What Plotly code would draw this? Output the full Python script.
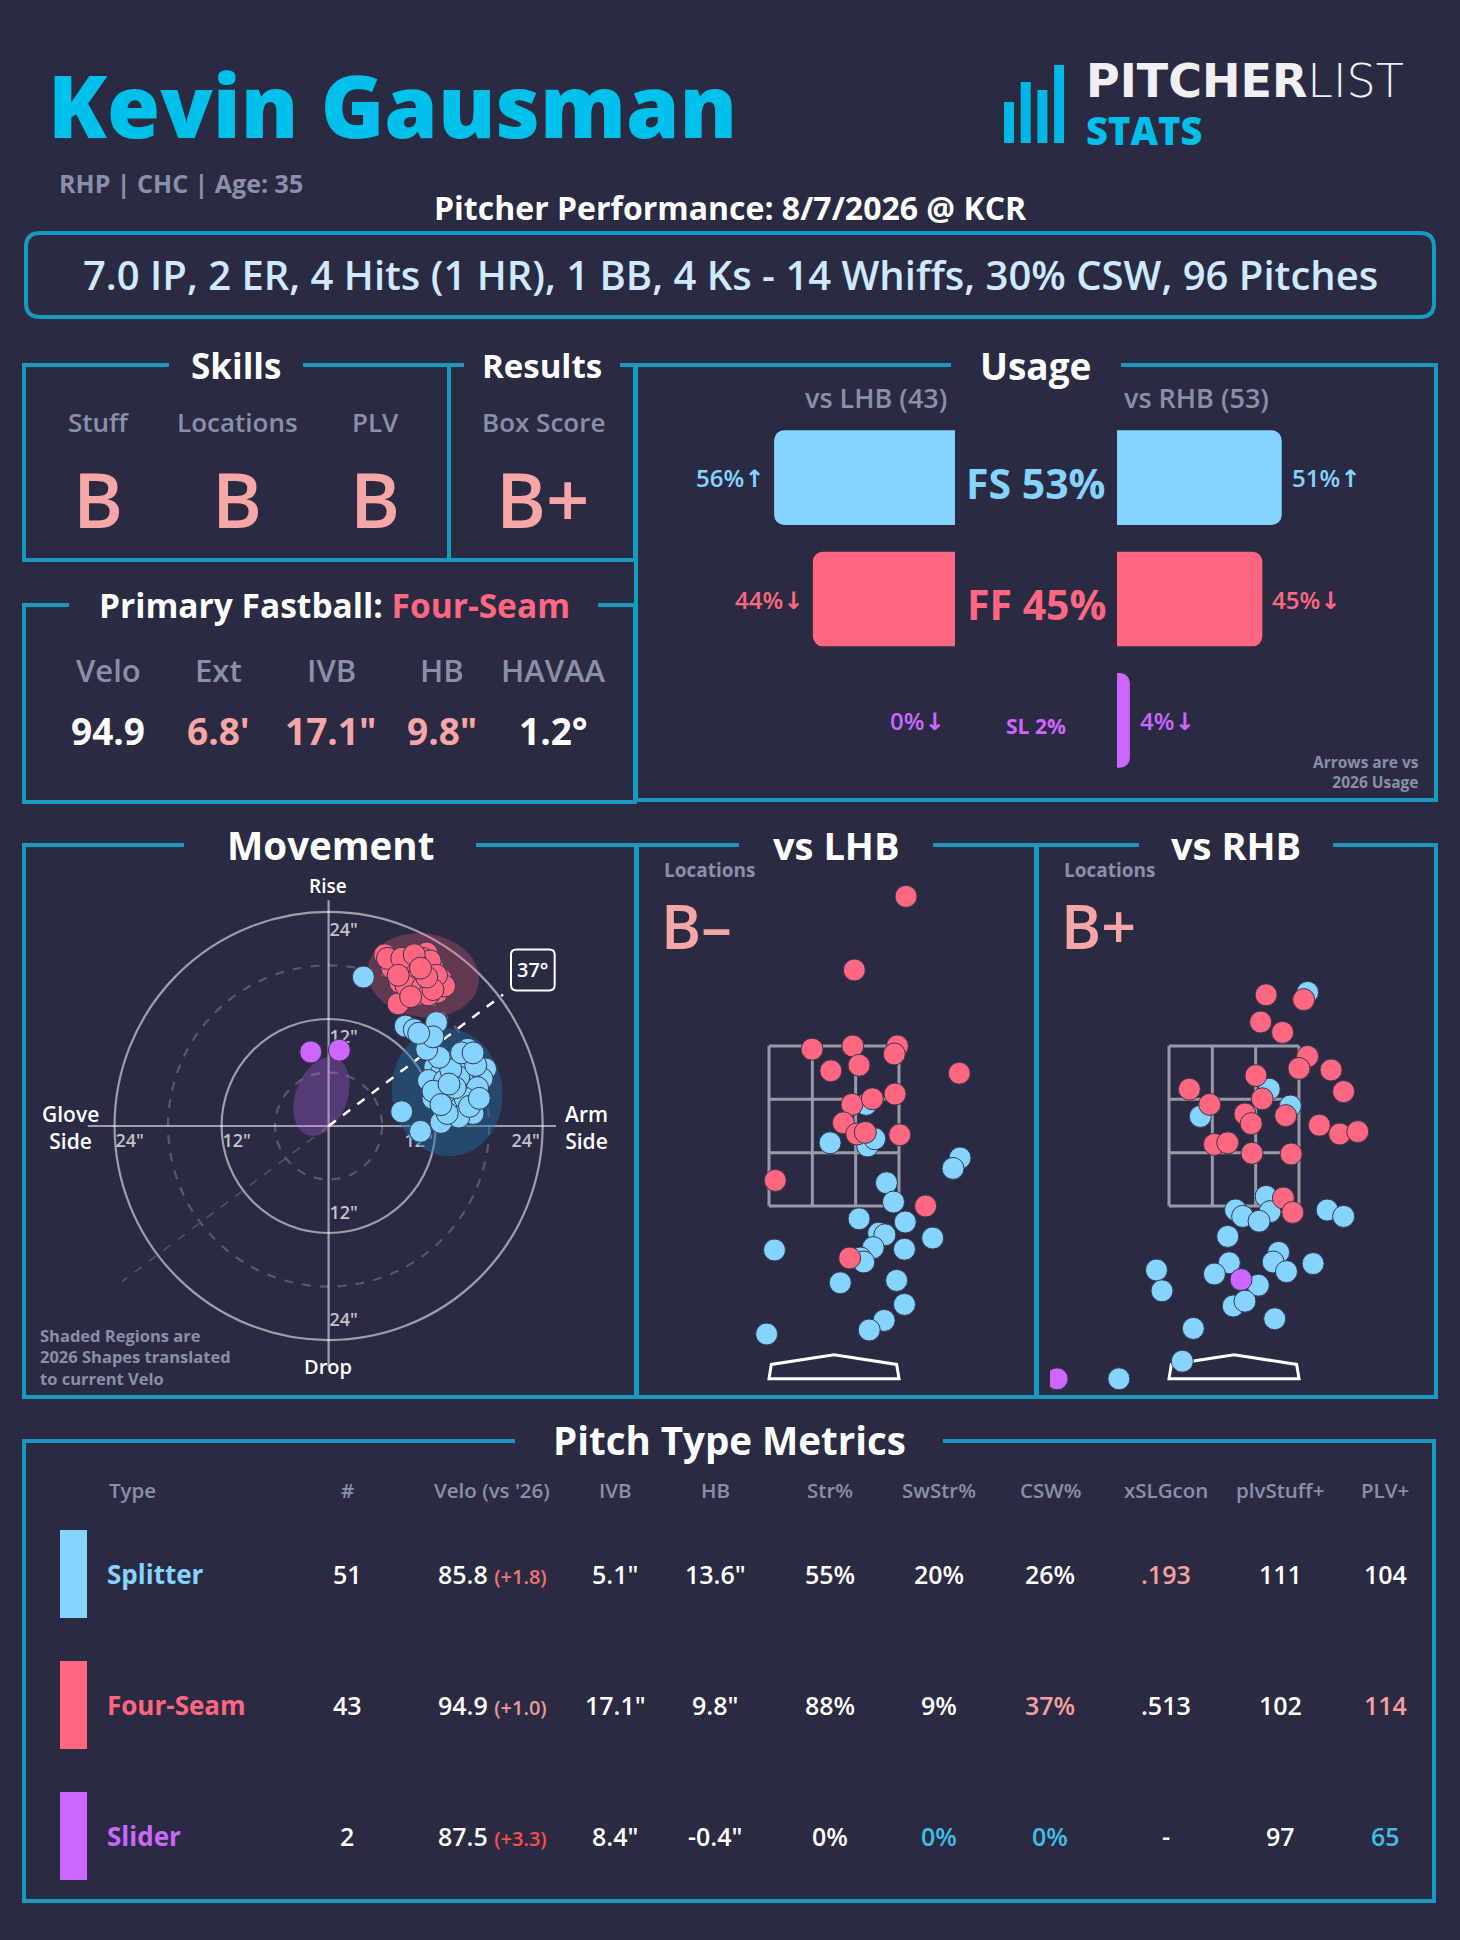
import numpy as np
import plotly.graph_objects as go

# ---------------- data ----------------
pitcher_name = "Kevin Gausman"
pitcher_info = "RHP | CHC | Age: 35"
game_title = "Pitcher Performance: 8/7/2026 @ KCR"
game_line = "7.0 IP, 2 ER, 4 Hits (1 HR), 1 BB, 4 Ks - 14 Whiffs, 30% CSW, 96 Pitches"

skill_labels = ["Stuff", "Locations", "PLV"]
skill_grades = ["B", "B", "B"]
result_labels = ["Box Score"]
result_grades = ["B+"]

fb_pitch = "Four-Seam"
fb_labels = ["Velo", "Ext", "IVB", "HB", "HAVAA"]
fb_values = ["94.9", "6.8'", "17.1\"", "9.8\"", "1.2°"]

usage_pitches = ["FS", "FF", "SL"]
usage_total = [53, 45, 2]
usage_lhb = [56, 44, 0]
usage_rhb = [51, 45, 4]
trend_lhb = ["↑", "↓", "↓"]
trend_rhb = ["↑", "↓", "↓"]
batters_lhb = 43
batters_rhb = 53

# movement (inches): horizontal break (arm side +), induced vertical break
ff_hb = [6.3, 7.3, 8.2, 9.2, 10.1, 11.0, 11.7, 12.6, 12.2, 11.0, 9.8, 8.9, 9.6, 10.8, 10.3, 7.8, 9.8, 7.1,
         8.5, 11.2, 11.9, 10.5, 9.4, 8.9, 11.4, 6.6, 8.0, 10.1, 10.8, 9.4, 13.0, 8.7, 10.5, 11.2, 12.1, 9.8,
         8.2, 11.7, 9.2, 11.0, 7.8, 9.6, 10.3]
ff_ivb = [19.2, 18.3, 17.9, 18.8, 19.2, 19.4, 17.7, 16.5, 15.0, 15.3, 15.9, 16.5, 17.5, 17.9, 16.9, 13.7, 14.7,
          17.7, 17.1, 17.1, 16.1, 18.8, 15.3, 18.1, 18.5, 18.8, 16.1, 16.5, 16.3, 17.1, 15.7, 15.7, 15.5, 14.7,
          16.9, 18.3, 18.8, 15.3, 14.5, 16.7, 16.9, 19.2, 17.7]
fs_hb = [3.9, 8.6, 9.6, 12.1, 10.8, 11.4, 15.6, 17.6, 17.2, 13.5, 14.4, 11.9, 12.6, 15.1, 15.8, 14.0, 12.1,
         13.3, 14.4, 16.0, 11.7, 14.0, 16.2, 8.2, 12.6, 10.3, 12.8, 15.3, 16.7, 13.5, 14.9, 11.2, 13.0, 14.6,
         16.5, 13.7, 12.4, 11.0, 11.7, 15.3, 14.6, 13.3, 15.8, 16.9, 14.2, 12.6, 14.9, 16.2, 11.7, 10.1, 13.5]
fs_ivb = [16.7, 11.2, 10.8, 11.6, 9.7, 8.6, 8.6, 6.4, 5.3, 7.1, 7.5, 6.6, 5.9, 6.1, 5.1, 5.1, 4.7, 4.1, 3.7,
          3.5, 3.1, 1.8, 1.4, 1.6, 0.4, -0.6, 3.3, 4.7, 4.3, 2.9, 2.2, 5.1, 5.1, 5.5, 6.8, 6.3, 7.7, 8.6, 3.9,
          3.1, 1.0, 1.4, 2.2, 3.1, 4.3, 2.4, 8.2, 8.2, 10.0, 10.4, 4.7]
sl_hb = [-2.0, 1.2]
sl_ivb = [8.3, 8.5]
arm_angle = 37
ring_radii = [6, 12, 18, 24]

# 2026 shapes (center hb, center ivb, semi-axis x, semi-axis y, tilt deg)
shape_pitch = ["FS", "FF", "SL"]
shape_cx = [13.3, 10.6, -0.8]
shape_cy = [3.8, 16.9, 3.3]
shape_ax = [6.2, 6.3, 2.9]
shape_ay = [7.2, 4.7, 4.6]
shape_tilt = [8, -8, -21]

# locations (feet): plate_x, plate_z
lhb_ff_x = [0.92, 0.26, -0.28, 0.24, 0.81, 0.77, -0.04, 0.32, 1.60, 0.23, 0.49, 0.78, 0.12, 0.29, 0.40, 0.84, -0.75, 1.17, 0.20]
lhb_ff_z = [5.37, 4.45, 3.46, 3.50, 3.50, 3.40, 3.19, 3.26, 3.16, 2.77, 2.84, 2.90, 2.54, 2.40, 2.42, 2.39, 1.82, 1.50, 0.85]
lhb_fs_x = [0.41, -0.05, 0.43, 0.52, 1.61, 1.52, 0.67, 0.76, 0.32, 0.91, 0.57, 0.65, 1.26, 0.50, 0.90, -0.76,
            0.34, 0.38, 0.08, 0.80, 0.90, 0.64, 0.45, -0.86]
lhb_fs_z = [2.77, 2.29, 2.25, 2.34, 2.10, 1.97, 1.79, 1.55, 1.34, 1.30, 1.16, 1.14, 1.10, 0.98, 0.96, 0.95,
            0.85, 0.80, 0.54, 0.57, 0.27, 0.07, -0.05, -0.10]
rhb_ff_x = [0.41, 0.89, 0.34, 0.62, 0.94, 0.83, 1.24, 1.40, 0.28, -0.57, -0.31, 0.36, 0.14, 0.22, 0.66, 1.09,
            1.35, 1.58, -0.25, -0.08, 0.23, 0.73, 0.63, 0.75]
rhb_ff_z = [4.14, 4.08, 3.80, 3.67, 3.37, 3.22, 3.20, 2.93, 3.13, 2.96, 2.77, 2.84, 2.65, 2.53, 2.63, 2.51,
            2.40, 2.43, 2.27, 2.29, 2.16, 2.15, 1.60, 1.42]
rhb_fs_x = [0.94, 0.45, 0.72, -0.43, 0.41, 0.02, 0.46, 0.11, 0.32, 1.19, 1.40, -0.08, 0.57, -0.06, 0.50, 1.01,
            -0.25, 0.67, -0.99, -0.92, 0.31, -0.01, 0.14, 0.52, -0.52, -0.66, -1.47]
rhb_fs_z = [4.17, 2.96, 2.75, 2.62, 1.62, 1.45, 1.43, 1.37, 1.31, 1.45, 1.37, 1.12, 0.92, 0.79, 0.80, 0.78,
            0.65, 0.68, 0.70, 0.44, 0.51, 0.25, 0.31, 0.09, -0.03, -0.44, -0.66]
rhb_sl_x = [0.09, -2.26]
rhb_sl_z = [0.58, -0.66]
lhb_grade = "B–"
rhb_grade = "B+"

# pitch type metrics table
table_headers = ["Type", "#", "Velo (vs '26)", "IVB", "HB", "Str%", "SwStr%", "CSW%", "xSLGcon", "plvStuff+", "PLV+"]
table_types = ["Splitter", "Four-Seam", "Slider"]
table_count = [51, 43, 2]
table_velo = [85.8, 94.9, 87.5]
table_velo_diff = [1.8, 1.0, 3.3]
table_ivb = [5.1, 17.1, 8.4]
table_hb = [13.6, 9.8, -0.4]
table_str = [55, 88, 0]
table_swstr = [20, 9, 0]
table_csw = [26, 37, 0]
table_xslg = [".193", ".513", "-"]
table_stuff = [111, 102, 97]
table_plv = [104, 114, 65]

# ---------------- style ----------------
W, H = 1460, 1940
BG = "#2a2b42"
FRAME = "#1799c0"
GRAY = "#8a8fab"
GRADE = "#f7a6a6"
WHITE = "#ffffff"
PCOL = {"FS": "#85d4ff", "FF": "#ff6680", "SL": "#cc66ff"}
SHADE = {"FS": "rgba(30,110,160,0.45)", "FF": "rgba(255,102,128,0.26)", "SL": "rgba(204,102,255,0.27)"}
FONT = "Open Sans"
ARROW = "<span style='font-family:DejaVu Sans'>{}</span>"


def px(x):
    return x / W


def py(y):
    return 1 - y / H


shapes = []
annotations = []


def seg(x0, y0, x1, y1, color=FRAME, w=4):
    shapes.append(dict(type="line", xref="paper", yref="paper", x0=px(x0), y0=py(y0), x1=px(x1), y1=py(y1),
                       line=dict(color=color, width=w)))


def frame(x0, y0, x1, y1, g0, g1):
    seg(x0 - 2, y0, g0, y0)
    seg(g1, y0, x1 + 2, y0)
    seg(x0, y0, x0, y1)
    seg(x1, y0, x1, y1)
    seg(x0 - 2, y1, x1 + 2, y1)


def rounded_path(x0, y0, x1, y1, rx, ry, fx=lambda v: v, fy=lambda v: v):
    P = lambda x, y: f"{fx(x):.6f},{fy(y):.6f}"
    return (f"M {P(x0 + rx, y0)} L {P(x1 - rx, y0)} Q {P(x1, y0)} {P(x1, y0 + ry)} "
            f"L {P(x1, y1 - ry)} Q {P(x1, y1)} {P(x1 - rx, y1)} L {P(x0 + rx, y1)} "
            f"Q {P(x0, y1)} {P(x0, y1 - ry)} L {P(x0, y0 + ry)} Q {P(x0, y0)} {P(x0 + rx, y0)} Z")


def ann(text, x, y, size, color=WHITE, weight=400, xanchor="center", yanchor="middle", align="center",
        family=FONT, **kw):
    annotations.append(dict(text=text, x=px(x), y=py(y), xref="paper", yref="paper", showarrow=False,
                            xanchor=xanchor, yanchor=yanchor, align=align,
                            font=dict(family=family, size=size, color=color, weight=weight), **kw))


fig = go.Figure()

# ---------------- header ----------------
ann(pitcher_name, 46, 104, 86, "#00c0ec", 800, xanchor="left")
ann(pitcher_info, 57, 183, 25, GRAY, 700, xanchor="left")
bar_tops = [102, 82, 90, 65]
for i, t in enumerate(bar_tops):
    x0 = 1004 + i * 16.7
    shapes.append(dict(type="rect", xref="paper", yref="paper", x0=px(x0), x1=px(x0 + 10), y0=py(143), y1=py(t),
                       fillcolor="#00b8e6", line=dict(width=0)))
ann("<b>PITCHER</b>LIST", 1084, 81, 46, "#f0f0f2", 200, xanchor="left", family="DejaVu Sans")
ann("STATS", 1084, 130, 38, "#00bfe8", 800, xanchor="left")
ann(game_title, 730, 208, 32, WHITE, 700)

# rounded summary box
shapes.append(dict(type="path", xref="paper", yref="paper", line=dict(color=FRAME, width=4),
                   path=rounded_path(26, 233, 1434, 317, 14, 14, px, py)))
ann(game_line, 730, 275, 40, "#cfe9ff", 600)

# ---------------- frames ----------------
frame(24, 365, 449, 560, 169, 303)
frame(449, 365, 635, 560, 464, 620)
frame(24, 605, 635, 802, 69, 598)
frame(636, 365, 1436, 800, 951, 1121)
frame(24, 845, 637, 1397, 184, 476)
frame(636, 845, 1037, 1397, 739, 933)
frame(1036, 845, 1436, 1397, 1139, 1333)
frame(24, 1441, 1434, 1901, 515, 943)

# ---------------- skills / results ----------------
ann("Skills", 236, 365, 35, WHITE, 700)
ann("Results", 542, 365, 33, WHITE, 700)
for lab, g, x in zip(skill_labels, skill_grades, [98, 237, 375]):
    ann(lab, x, 422, 26, GRAY, 600)
    ann(g, x, 499, 76, GRADE, 600)
for lab, g in zip(result_labels, result_grades):
    ann(lab, 543, 422, 26, GRAY, 600)
    ann(g, 543, 499, 76, GRADE, 600)

# ---------------- primary fastball ----------------
ann(f"Primary Fastball: <span style='color:{PCOL['FF']}'>{fb_pitch}</span>", 334, 605, 33.5, WHITE, 700)
fb_colors = [WHITE, GRADE, GRADE, GRADE, WHITE]
for lab, v, c, x in zip(fb_labels, fb_values, fb_colors, [108, 218, 331, 442, 553]):
    ann(lab, x, 670, 31, GRAY, 600)
    ann(v, x, 730, 37, c, 700)

# ---------------- usage ----------------
ann("Usage", 1035, 365, 37, WHITE, 700)
ann(f"vs LHB ({batters_lhb})", 876, 398, 27, GRAY, 600)
ann(f"vs RHB ({batters_rhb})", 1196, 398, 27, GRAY, 600)
pcolors = [PCOL[p] for p in usage_pitches]
fig.add_trace(go.Bar(y=usage_pitches, x=usage_lhb, orientation="h", xaxis="x4", yaxis="y4",
                     marker=dict(color=pcolors, cornerradius=10, line=dict(width=0)), hoverinfo="skip"))
fig.add_trace(go.Bar(y=usage_pitches, x=usage_rhb, orientation="h", xaxis="x5", yaxis="y5",
                     marker=dict(color=pcolors, cornerradius=10, line=dict(width=0)), hoverinfo="skip"))
mid_sizes = [41, 41, 21]
for p, tot, l, rr, tl, tr, s in zip(usage_pitches, usage_total, usage_lhb, usage_rhb, trend_lhb, trend_rhb, mid_sizes):
    c = PCOL[p]
    annotations.append(dict(text=f"{l}%" + ARROW.format(tl), x=l, y=p, xref="x4", yref="y4", showarrow=False,
                            xanchor="right", xshift=-8, font=dict(family=FONT, size=24, color=c, weight=600)))
    annotations.append(dict(text=f"{rr}%" + ARROW.format(tr), x=rr, y=p, xref="x5", yref="y5", showarrow=False,
                            xanchor="left", xshift=8, font=dict(family=FONT, size=24, color=c, weight=600)))
    annotations.append(dict(text=f"{p} {tot}%", x=px(1036), y=p, xref="paper", yref="y4", showarrow=False,
                            xanchor="center", yshift=-5 if s > 30 else -6,
                            font=dict(family=FONT, size=s, color=c, weight=700)))
ann("Arrows are vs<br>2026 Usage", 1421, 772, 15.5, GRAY, 700, xanchor="right", align="right")

# ---------------- movement ----------------
ann("Movement", 330, 845, 38.5, WHITE, 700)
for rad in ring_radii:
    solid = rad % 12 == 0
    shapes.append(dict(type="circle", xref="x", yref="y", x0=-rad, x1=rad, y0=-rad, y1=rad, layer="below",
                       line=dict(color="rgba(255,255,255,0.55)" if solid else "rgba(255,255,255,0.22)",
                                 width=2.2, dash="solid" if solid else "dash")))
shapes.append(dict(type="line", xref="x", yref="y", x0=-27, x1=25.5, y0=0, y1=0, layer="below",
                   line=dict(color="rgba(255,255,255,0.55)", width=2.2)))
shapes.append(dict(type="line", xref="x", yref="y", x0=0, x1=0, y0=-27, y1=25.3, layer="below",
                   line=dict(color="rgba(255,255,255,0.55)", width=2.2)))
ang = np.deg2rad(arm_angle)
shapes.append(dict(type="line", xref="x", yref="y", x0=0, y0=0, x1=-29 * np.cos(ang), y1=-29 * np.sin(ang),
                   layer="below", line=dict(color="rgba(255,255,255,0.2)", width=1.5, dash="dash")))

# ring labels (text trace, below marks)
rl_x, rl_y, rl_t, rl_p = [], [], [], []
for rad in ring_radii[1::2]:
    lab = f'{rad}"'
    rl_x += [-rad + 0.1, rad - 0.3, 0.1, 0.1]
    rl_y += [-1.9, -1.9, rad - 2.2, -(rad - 2.1)]
    rl_t += [lab] * 4
    rl_p += ["middle right", "middle left", "middle right", "middle right"]
fig.add_trace(go.Scatter(x=rl_x, y=rl_y, text=rl_t, mode="text", textposition=rl_p, xaxis="x", yaxis="y",
                         textfont=dict(family=FONT, size=18, color="rgba(255,255,255,0.72)", weight=600),
                         hoverinfo="skip"))
t = np.linspace(0, 2 * np.pi, 120)
for p, cx, cy, a, b, tilt in zip(shape_pitch, shape_cx, shape_cy, shape_ax, shape_ay, shape_tilt):
    th = np.deg2rad(tilt)
    ex = cx + a * np.cos(t) * np.cos(th) - b * np.sin(t) * np.sin(th)
    ey = cy + a * np.cos(t) * np.sin(th) + b * np.sin(t) * np.cos(th)
    fig.add_trace(go.Scatter(x=ex, y=ey, mode="lines", fill="toself", fillcolor=SHADE[p], line=dict(width=0),
                             xaxis="x", yaxis="y", hoverinfo="skip"))
fig.add_trace(go.Scatter(x=[0, 24.5 * np.cos(ang)], y=[0, 24.5 * np.sin(ang)], mode="lines", xaxis="x",
                         yaxis="y", line=dict(color="white", width=2.5, dash="dash"), hoverinfo="skip"))
MK = dict(size=22, line=dict(width=1, color="#34364f"))
for p, xs, ys in [("FS", fs_hb, fs_ivb), ("FF", ff_hb, ff_ivb), ("SL", sl_hb, sl_ivb)]:
    fig.add_trace(go.Scatter(x=xs, y=ys, mode="markers", xaxis="x", yaxis="y", hoverinfo="skip",
                             marker=dict(color=PCOL[p], **MK)))
# arm-angle label in a rounded box (box size in inches on the movement axes)
lab_x, lab_y, bw, bh = 22.9, 17.5, 2.45, 2.3
shapes.append(dict(type="path", xref="x", yref="y", fillcolor=BG, line=dict(color="white", width=2),
                   path=rounded_path(lab_x - bw, lab_y - bh, lab_x + bw, lab_y + bh, 0.6, 0.6)))
annotations.append(dict(text=f"{arm_angle}°", x=lab_x, y=lab_y, xref="x", yref="y", showarrow=False,
                        font=dict(family=FONT, size=20, color=WHITE, weight=600)))
ann("Rise", 328, 886, 19, WHITE, 600)
ann("Drop", 328, 1366, 20, WHITE, 600)
ann("Glove<br>Side", 70, 1127, 21, WHITE, 600)
ann("Arm<br>Side", 586, 1127, 21, WHITE, 600)
ann("Shaded Regions are<br>2026 Shapes translated<br>to current Velo", 38, 1357, 16.5, GRAY, 700,
    xanchor="left", align="left")

# ---------------- locations ----------------
for ax, title, tx, grade, gx, sets in [
    ("2", "vs LHB", 836, lhb_grade, 662, [("FS", lhb_fs_x, lhb_fs_z), ("FF", lhb_ff_x, lhb_ff_z)]),
    ("3", "vs RHB", 1236, rhb_grade, 1062, [("FS", rhb_fs_x, rhb_fs_z), ("FF", rhb_ff_x, rhb_ff_z),
                                             ("SL", rhb_sl_x, rhb_sl_z)])]:
    ann(title, tx, 845, 38, WHITE, 700)
    ann("Locations", gx, 870, 19, GRAY, 700, xanchor="left")
    ann(grade, gx - 3, 925, 61, GRADE, 600, xanchor="left")
    xr, yr = "x" + ax, "y" + ax
    zc = "#9a9aa6"
    for xv in [-0.83, -0.83 / 3, 0.83 / 3, 0.83]:
        shapes.append(dict(type="line", xref=xr, yref=yr, x0=xv, x1=xv, y0=1.5, y1=3.5, layer="below",
                           line=dict(color=zc, width=3)))
    for zv in [1.5, 1.5 + 2 / 3, 1.5 + 4 / 3, 3.5]:
        shapes.append(dict(type="line", xref=xr, yref=yr, x0=-0.83, x1=0.83, y0=zv, y1=zv, layer="below",
                           line=dict(color=zc, width=3)))
    shapes.append(dict(type="path", xref=xr, yref=yr, layer="below",
                       path="M -0.83,-0.66 L -0.80,-0.48 L 0,-0.36 L 0.80,-0.48 L 0.83,-0.66 Z",
                       line=dict(color="white", width=3)))
    for p, xs, zs in sets:
        fig.add_trace(go.Scatter(x=xs, y=zs, mode="markers", xaxis="x" + ax, yaxis="y" + ax, hoverinfo="skip",
                                 marker=dict(color=PCOL[p], **MK)))

# ---------------- table ----------------
ann("Pitch Type Metrics", 729, 1440, 38.5, WHITE, 700)
col_x = [107, 347, 492, 615, 715, 830, 939, 1050, 1166, 1280, 1385]
for i, (h, x) in enumerate(zip(table_headers, col_x)):
    ann(h, x, 1490, 20.5, GRAY, 600, xanchor="left" if i == 0 else "center")
row_y = [1574, 1705, 1836]
row_codes = ["FS", "FF", "SL"]
diff_colors = ["#f07575", "#e89a9a", "#ff4d4d"]
HI_PINK = "#f5a0a0"
HI_CYAN = "#3fbfe2"
cell_color = {(0, 8): HI_PINK, (1, 7): HI_PINK, (1, 10): HI_PINK, (2, 6): HI_CYAN, (2, 7): HI_CYAN,
              (2, 10): HI_CYAN}
for i in range(len(table_types)):
    yy = row_y[i]
    c = PCOL[row_codes[i]]
    shapes.append(dict(type="rect", xref="paper", yref="paper", x0=px(60), x1=px(87), y0=py(yy + 44),
                       y1=py(yy - 44), fillcolor=c, line=dict(width=0)))
    ann(table_types[i], 105, yy, 26, c, 700, xanchor="left")
    cells = [str(table_count[i]),
             f"{table_velo[i]:.1f} <span style='font-size:20px;color:{diff_colors[i]}'>(+{table_velo_diff[i]:.1f})</span>",
             f'{table_ivb[i]:.1f}"', f'{table_hb[i]:.1f}"', f"{table_str[i]}%", f"{table_swstr[i]}%",
             f"{table_csw[i]}%", table_xslg[i], str(table_stuff[i]), str(table_plv[i])]
    for j, (txt, x) in enumerate(zip(cells, col_x[1:]), start=1):
        ann(txt, x, yy, 25, cell_color.get((i, j), WHITE), 600)

# ---------------- layout ----------------
noax = dict(visible=False, showgrid=False, zeroline=False, fixedrange=True)
fig.update_layout(
    width=W, height=H, margin=dict(l=0, r=0, t=0, b=0),
    paper_bgcolor=BG, plot_bgcolor="rgba(0,0,0,0)", showlegend=False, hovermode=False,
    bargap=0.22,
    xaxis=dict(domain=[px(60.6), px(596.6)], range=[-30.05, 30.05], **noax),
    yaxis=dict(domain=[py(1394), py(858)], range=[-30.05, 30.05], **noax),
    xaxis2=dict(domain=[px(650), px(1018)], range=[-2.35, 2.35], **noax),
    yaxis2=dict(domain=[py(1392), py(870)], range=[-0.825, 5.7], **noax),
    xaxis3=dict(domain=[px(1050), px(1418)], range=[-2.35, 2.35], **noax),
    yaxis3=dict(domain=[py(1392), py(870)], range=[-0.825, 5.7], **noax),
    xaxis4=dict(domain=[px(740), px(955)], range=[215 / 3.23, 0], **noax),
    yaxis4=dict(domain=[py(781), py(417)], type="category", categoryorder="array",
                categoryarray=usage_pitches, autorange="reversed", **noax),
    xaxis5=dict(domain=[px(1117), px(1410)], range=[0, 293 / 3.23], **noax),
    yaxis5=dict(domain=[py(781), py(417)], type="category", categoryorder="array",
                categoryarray=usage_pitches, autorange="reversed", **noax),
    shapes=shapes, annotations=annotations,
)

fig.write_html("out.html", config={"displayModeBar": False},
               post_script="document.body.style.margin='0';document.body.style.background='#2a2b42';")
